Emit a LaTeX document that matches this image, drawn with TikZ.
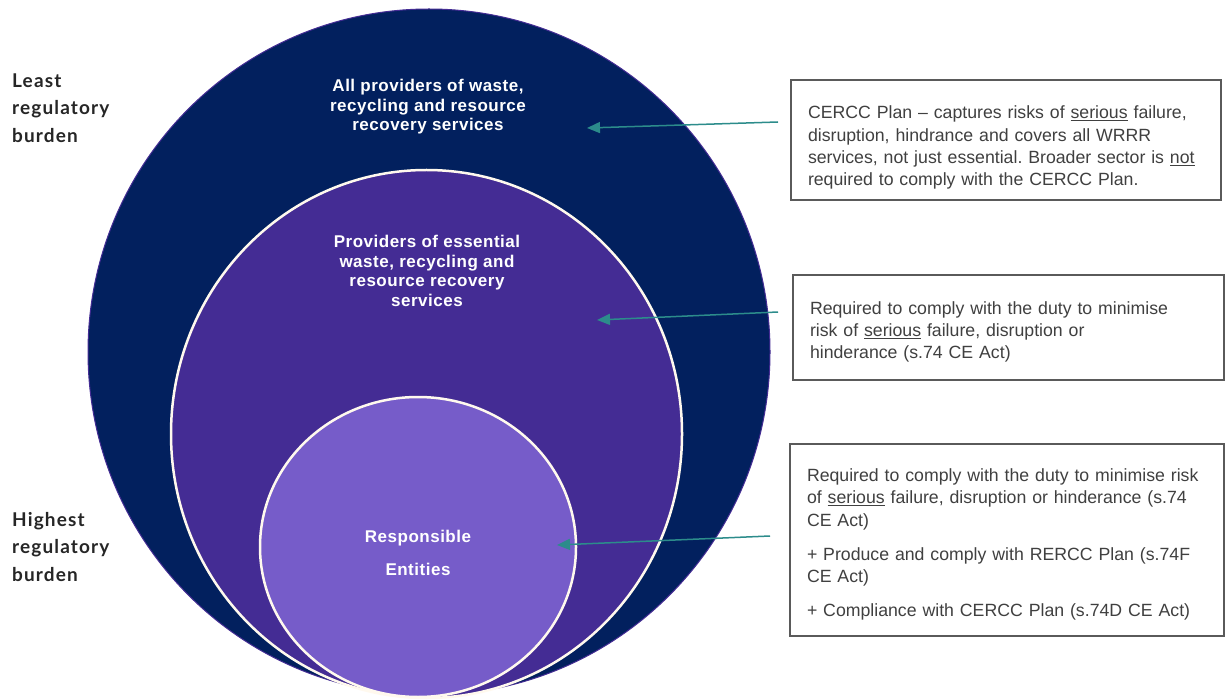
\documentclass[tikz,border=0pt]{standalone}
\usepackage{fontspec}
\setmainfont{Liberation Sans}
\newfontfamily\circfont{Liberation Sans}[LetterSpace=3]
\newfontfamily\sidefont{Lato}[LetterSpace=6]
\usetikzlibrary{arrows.meta,shapes.geometric}

\definecolor{navy}{HTML}{02205E}
\definecolor{midpurple}{HTML}{442C94}
\definecolor{lightpurple}{HTML}{765CC9}
\definecolor{rim}{HTML}{FFF9EE}
\definecolor{tealarrow}{HTML}{2C8C8B}
\definecolor{boxtext}{HTML}{404040}
\definecolor{boxline}{HTML}{5A5A5A}
\definecolor{sidetext}{HTML}{262626}

% a tall invisible strut on the first line pushes a text block down inside its frame
\newcommand{\toppad}[1]{\rule{0pt}{#1}}

\tikzset{
  ring/.style={ellipse, inner sep=0pt},
  ringlabel/.style={text=white, align=center, font=\circfont\bfseries\fontsize{17}{19.5}\selectfont},
  sidelabel/.style={text=sidetext, align=left, anchor=west, inner sep=0pt,
    font=\sidefont\bfseries\fontsize{19}{27.5}\selectfont},
  infobox/.style={draw=boxline, line width=1.2pt, fill=white, text=boxtext,
    align=left, inner xsep=17pt, inner ysep=0pt,
    font=\frenchspacing\fontsize{17.7}{22.3}\selectfont},
  pointer/.style={draw=tealarrow, line width=1.5pt,
    -{Triangle[length=13pt,width=11pt]}}
}

\begin{document}
\begin{tikzpicture}[x=1pt,y=-1pt]
\useasboundingbox (0,0) rectangle (1225,700);
\fill[white] (0,0) rectangle (1225,700);

% nested scope rings
\node[ring, fill=navy, draw=midpurple, line width=1pt,
      minimum width=682pt, minimum height=686pt] (outer) at (429,352) {};
\node[ring, fill=midpurple, draw=rim, line width=2.5pt,
      minimum width=511pt, minimum height=528pt] (middle) at (426.5,434) {};
\node[ring, fill=lightpurple, draw=rim, line width=2.5pt,
      minimum width=316pt, minimum height=300pt] (inner) at (418,547) {};

% ring labels
\node[ringlabel] (outerlbl) at (428,107)
  {All providers of waste,\\recycling and resource\\recovery services};
\node[ringlabel] (middlelbl) at (427,271)
  {Providers of essential\\waste, recycling and\\resource recovery\\services};
\node[ringlabel, font=\circfont\bfseries\fontsize{17}{33}\selectfont] (innerlbl) at (418,553)
  {Responsible\\Entities};

% burden scale
\node[sidelabel] (least) at (12,108) {Least\\regulatory\\burden};
\node[sidelabel] (highest) at (12,547) {Highest\\regulatory\\burden};

% obligation boxes
\node[infobox, minimum width=430pt, minimum height=120pt, text width=396pt] (plan) at (1006,140)
  {\toppad{28pt}CERCC Plan -- captures risks of \underline{serious} failure,\\
   disruption, hindrance and covers all WRRR\\
   services, not just essential. Broader sector is \underline{not}\\
   required to comply with the CERCC Plan.};
\node[infobox, minimum width=431pt, minimum height=105pt, text width=397pt] (duty) at (1008.5,327.5)
  {\toppad{22pt}Required to comply with the duty to minimise\\
   risk of \underline{serious} failure, disruption or\\
   hinderance (s.74 CE Act)};
\node[infobox, minimum width=434pt, minimum height=192pt, text width=400pt] (re) at (1007,540)
  {\toppad{22pt}Required to comply with the duty to minimise risk\\
   of \underline{serious} failure, disruption or hinderance (s.74\\
   CE Act)\\[12pt]
   + Produce and comply with RERCC Plan (s.74F\\
   CE Act)\\[12pt]
   + Compliance with CERCC Plan (s.74D CE Act)};

% pointer ends
\coordinate (p1s) at (778,122);
\coordinate (p1e) at (587,128);
\coordinate (p2s) at (778,312);
\coordinate (p2e) at (597,320);
\coordinate (p3s) at (770,536);
\coordinate (p3e) at (557,545);

\draw[pointer] (p1s) -- (p1e);
\draw[pointer] (p2s) -- (p2e);
\draw[pointer] (p3s) -- (p3e);
\end{tikzpicture}
\end{document}
